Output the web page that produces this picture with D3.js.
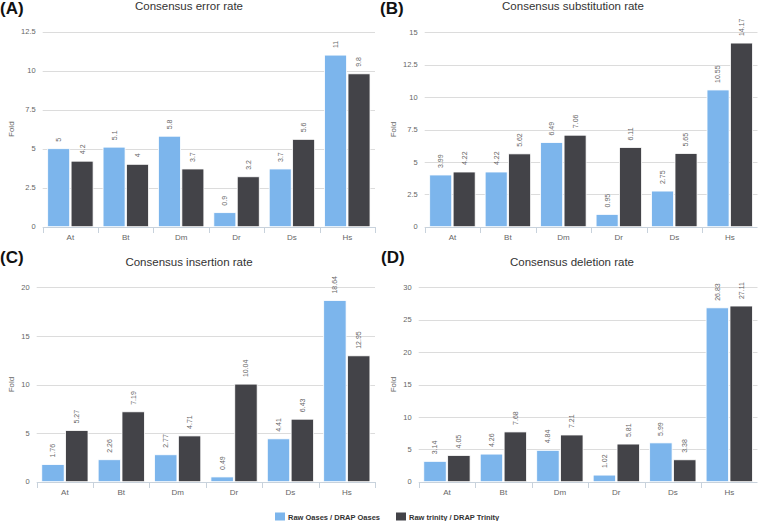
<!DOCTYPE html>
<html>
<head>
<meta charset="utf-8">
<script src="https://cdn.jsdelivr.net/npm/d3@7/dist/d3.min.js"></script>
<style>
  html, body { margin: 0; padding: 0; background: #fff; }
  svg { display: block; font-family: "Liberation Sans", Arial, sans-serif; }
</style>
</head>
<body>
<svg id="chart" width="758" height="521"></svg>
<script>
// ---- data ----
const categories = ["At", "Bt", "Dm", "Dr", "Ds", "Hs"];
const seriesNames = ["Raw Oases / DRAP Oases", "Raw trinity / DRAP Trinity"];
const panelLetters = ["(A)", "(B)", "(C)", "(D)"];
const panelTitles = ["Consensus error rate", "Consensus substitution rate", "Consensus insertion rate", "Consensus deletion rate"];

const errorOases = [5, 5.1, 5.8, 0.9, 3.7, 11];
const errorTrinity = [4.2, 4, 3.7, 3.2, 5.6, 9.8];
const substitutionOases = [3.99, 4.22, 6.49, 0.95, 2.75, 10.55];
const substitutionTrinity = [4.22, 5.62, 7.06, 6.11, 5.65, 14.17];
const insertionOases = [1.76, 2.26, 2.77, 0.49, 4.41, 18.64];
const insertionTrinity = [5.27, 7.19, 4.71, 10.04, 6.43, 12.95];
const deletionOases = [3.14, 4.26, 4.84, 1.02, 5.99, 26.83];
const deletionTrinity = [4.05, 7.68, 7.21, 5.81, 3.38, 27.11];

const ticksA = [0, 2.5, 5, 7.5, 10, 12.5];
const ticksB = [0, 2.5, 5, 7.5, 10, 12.5, 15];
const ticksC = [0, 5, 10, 15, 20];
const ticksD = [0, 5, 10, 15, 20, 25, 30];

// ---- layout ----
const colors = ["#7cb5ec", "#434348"];
const panels = [
  { a: errorOases, b: errorTrinity, ticks: ticksA, left: 42.7, right: 375, top: 31.7, bottom: 226.7, cx: 189, foldX: 11, letterX: 0, letterY: 14, titleY: 10 },
  { a: substitutionOases, b: substitutionTrinity, ticks: ticksB, left: 424.7, right: 757.5, top: 32.3, bottom: 226.7, cx: 573, foldX: 393, letterX: 380, letterY: 14, titleY: 10 },
  { a: insertionOases, b: insertionTrinity, ticks: ticksC, left: 36.7, right: 375, top: 287.3, bottom: 481.7, cx: 189, foldX: 11, letterX: 0, letterY: 263, titleY: 265.5 },
  { a: deletionOases, b: deletionTrinity, ticks: ticksD, left: 418.7, right: 757.5, top: 287.3, bottom: 481.7, cx: 572, foldX: 393, letterX: 381, letterY: 263, titleY: 265.5 }
];

const svg = d3.select("#chart");

panels.forEach((p, i) => {
  const g = svg.append("g");
  const y = d3.scaleLinear().domain([0, d3.max(p.ticks)]).range([p.bottom, p.top]);
  const x0 = d3.scaleBand().domain(categories).range([p.left, p.right]);
  const bw = x0.bandwidth();
  const x1 = d3.scaleBand().domain([0, 1]).range([bw * 0.09, bw * 0.91]).paddingInner(0.06);

  // gridlines
  g.selectAll("line.grid").data(p.ticks.filter(t => t > 0)).enter().append("line")
    .attr("x1", p.left).attr("x2", p.right)
    .attr("y1", d => Math.round(y(d)) + 0.5).attr("y2", d => Math.round(y(d)) + 0.5)
    .attr("stroke", "#dcdcdc").attr("stroke-width", 1);

  // y labels
  g.selectAll("text.ytick").data(p.ticks).enter().append("text")
    .attr("x", p.left - 7).attr("y", d => y(d)).attr("dy", "0.35em")
    .attr("text-anchor", "end").attr("font-size", 7.5).attr("fill", "#666")
    .text(d => d);

  // Fold label
  g.append("text")
    .attr("transform", `translate(${p.foldX},${(p.top + p.bottom) / 2}) rotate(-90)`)
    .attr("text-anchor", "middle").attr("dy", "0.35em")
    .attr("font-size", 8).attr("fill", "#666").text("Fold");

  // bars
  const rows = categories.map((c, k) => ({ c, vals: [p.a[k], p.b[k]] }));
  const cg = g.selectAll("g.cat").data(rows).enter().append("g")
    .attr("transform", d => `translate(${x0(d.c)},0)`);
  cg.selectAll("rect").data(d => d.vals.map((v, s) => ({ v, s }))).enter().append("rect")
    .attr("x", d => x1(d.s)).attr("width", x1.bandwidth())
    .attr("y", d => y(d.v)).attr("height", d => y(0) - y(d.v))
    .attr("fill", d => colors[d.s]).attr("stroke", "#fff").attr("stroke-width", 0.8);
  cg.selectAll("text").data(d => d.vals.map((v, s) => ({ v, s }))).enter().append("text")
    .attr("transform", d => `translate(${x1(d.s) + x1.bandwidth() / 2},${y(d.v) - 7}) rotate(-90)`)
    .attr("dy", "0.35em").attr("text-anchor", "start")
    .attr("font-size", 7).attr("fill", "#666").text(d => d.v);

  // x axis line and ticks
  g.append("line").attr("x1", p.left).attr("x2", p.right)
    .attr("y1", Math.round(p.bottom) + 0.5).attr("y2", Math.round(p.bottom) + 0.5)
    .attr("stroke", "#c8d2dc").attr("stroke-width", 1);
  const bounds = categories.map(c => x0(c)).concat([p.right]);
  g.selectAll("line.xt").data(bounds).enter().append("line")
    .attr("x1", d => Math.round(d) + 0.5).attr("x2", d => Math.round(d) + 0.5)
    .attr("y1", Math.round(p.bottom)).attr("y2", Math.round(p.bottom) + 6)
    .attr("stroke", "#c8d2dc").attr("stroke-width", 1);
  g.selectAll("text.xl").data(categories).enter().append("text")
    .attr("x", d => x0(d) + bw / 2).attr("y", p.bottom + 13.5)
    .attr("text-anchor", "middle").attr("font-size", 8).attr("fill", "#666").text(d => d);

  // title and letter
  g.append("text").attr("x", p.cx).attr("y", p.titleY).attr("text-anchor", "middle")
    .attr("font-size", 11.5).attr("fill", "#333").text(panelTitles[i]);
  g.append("text").attr("x", p.letterX).attr("y", p.letterY)
    .attr("font-size", 17).attr("font-weight", "bold").attr("fill", "#111").text(panelLetters[i]);
});

// legend
const legendX = [275, 396];
seriesNames.forEach((n, s) => {
  svg.append("rect").attr("x", legendX[s]).attr("y", 512.5).attr("width", 10).attr("height", 8)
    .attr("fill", colors[s]);
  svg.append("text").attr("x", legendX[s] + 13).attr("y", 519.5)
    .attr("font-size", 7.5).attr("font-weight", "bold").attr("fill", "#333").text(n);
});
</script>
</body>
</html>
